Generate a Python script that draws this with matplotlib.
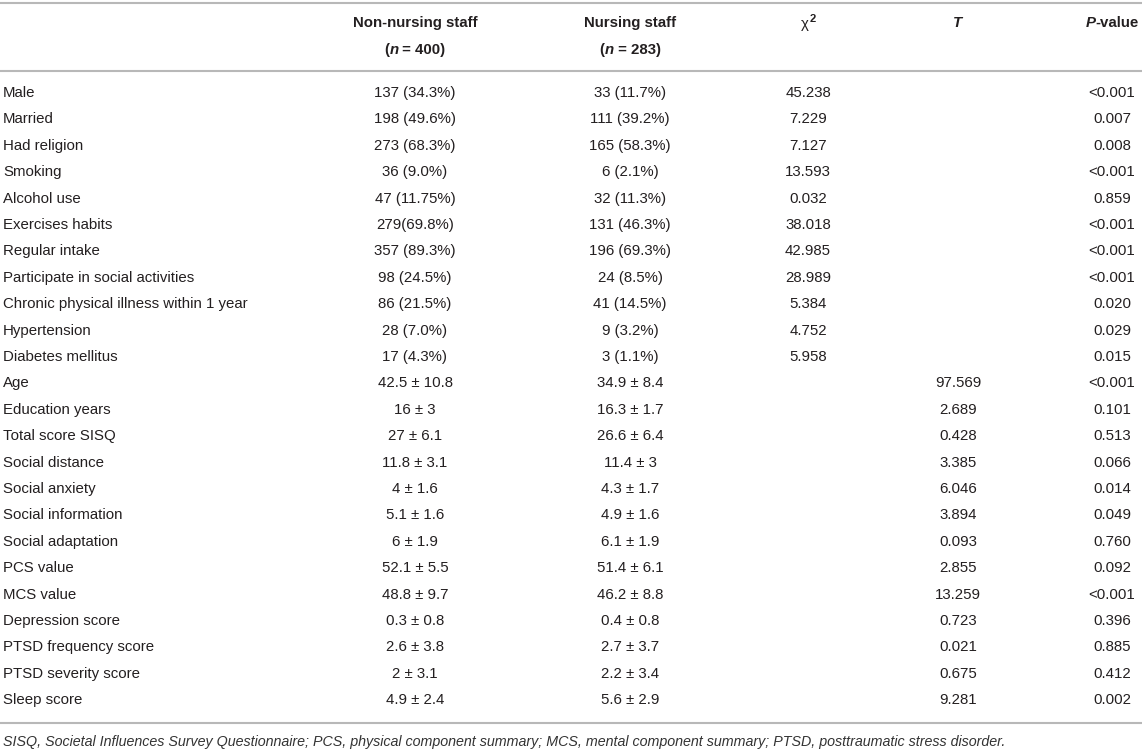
import matplotlib
matplotlib.use("Agg")
import matplotlib.pyplot as plt

plt.rcParams['font.family'] = ['Liberation Sans', 'DejaVu Sans']

# ---- data ----
labels = [
    "Male", "Married", "Had religion", "Smoking", "Alcohol use", "Exercises habits",
    "Regular intake", "Participate in social activities",
    "Chronic physical illness within 1 year", "Hypertension", "Diabetes mellitus",
    "Age", "Education years", "Total score SISQ", "Social distance", "Social anxiety",
    "Social information", "Social adaptation", "PCS value", "MCS value",
    "Depression score", "PTSD frequency score", "PTSD severity score", "Sleep score",
]
non_nursing = [
    "137 (34.3%)", "198 (49.6%)", "273 (68.3%)", "36 (9.0%)", "47 (11.75%)",
    "279(69.8%)", "357 (89.3%)", "98 (24.5%)", "86 (21.5%)", "28 (7.0%)", "17 (4.3%)",
    "42.5 ± 10.8", "16 ± 3", "27 ± 6.1", "11.8 ± 3.1", "4 ± 1.6", "5.1 ± 1.6",
    "6 ± 1.9", "52.1 ± 5.5", "48.8 ± 9.7", "0.3 ± 0.8", "2.6 ± 3.8", "2 ± 3.1",
    "4.9 ± 2.4",
]
nursing = [
    "33 (11.7%)", "111 (39.2%)", "165 (58.3%)", "6 (2.1%)", "32 (11.3%)",
    "131 (46.3%)", "196 (69.3%)", "24 (8.5%)", "41 (14.5%)", "9 (3.2%)", "3 (1.1%)",
    "34.9 ± 8.4", "16.3 ± 1.7", "26.6 ± 6.4", "11.4 ± 3", "4.3 ± 1.7", "4.9 ± 1.6",
    "6.1 ± 1.9", "51.4 ± 6.1", "46.2 ± 8.8", "0.4 ± 0.8", "2.7 ± 3.7", "2.2 ± 3.4",
    "5.6 ± 2.9",
]
chi2 = ["45.238", "7.229", "7.127", "13.593", "0.032", "38.018", "42.985", "28.989",
        "5.384", "4.752", "5.958"] + [""] * 13
t_vals = [""] * 11 + ["97.569", "2.689", "0.428", "3.385", "6.046", "3.894", "0.093",
                      "2.855", "13.259", "0.723", "0.021", "0.675", "9.281"]
p_vals = ["<0.001", "0.007", "0.008", "<0.001", "0.859", "<0.001", "<0.001", "<0.001",
          "0.020", "0.029", "0.015", "<0.001", "0.101", "0.513", "0.066", "0.014",
          "0.049", "0.760", "0.092", "<0.001", "0.396", "0.885", "0.412", "0.002"]
footnote = ("SISQ, Societal Influences Survey Questionnaire; PCS, physical component "
            "summary; MCS, mental component summary; PTSD, posttraumatic stress disorder.")

# ---- layout ----
W, H = 1142, 749
fig = plt.figure(figsize=(W / 100, H / 100), dpi=100)
ax = fig.add_axes([0, 0, 1, 1])
ax.set_xlim(0, W)
ax.set_ylim(H, 0)
ax.axis("off")
renderer = fig.canvas.get_renderer()

TXT = "#231f20"
LINE = "#b8b8b8"
FS = 10.8

col_x = [415, 630, 808, 958, 1112]
label_x = 3
row0, dy = 93, 26.4
hdr1, hdr2 = 23, 50

for yl in (3, 71, 723):
    ax.plot([0, W], [yl, yl], color=LINE, lw=1.5, solid_capstyle="butt")


def width_of(s, **kw):
    t = ax.text(0, 0, s, fontsize=kw.get("fontsize", FS), fontweight=kw.get("weight", "normal"),
                fontstyle=kw.get("style", "normal"))
    w = t.get_window_extent(renderer).width
    t.remove()
    return w


def runs(xc, y, parts):
    """parts: list of (text, weight, style)"""
    widths = [width_of(p[0], weight=p[1], style=p[2]) for p in parts]
    x = xc - sum(widths) / 2
    for (s, wgt, sty), w in zip(parts, widths):
        ax.text(x, y, s, fontsize=FS, fontweight=wgt, fontstyle=sty, color=TXT,
                ha="left", va="center")
        x += w


# header
runs(col_x[0], hdr1, [("Non-nursing staff", "bold", "normal")])
runs(col_x[0], hdr2, [("(", "bold", "normal"), ("n", "bold", "italic"),
                      (" = 400)", "bold", "normal")])
runs(col_x[1], hdr1, [("Nursing staff", "bold", "normal")])
runs(col_x[1], hdr2, [("(", "bold", "normal"), ("n", "bold", "italic"),
                      (" = 283)", "bold", "normal")])
# chi-square with superscript
wchi = width_of("χ")
wsup = width_of("2", weight="bold", fontsize=FS * 0.75)
xs = col_x[2] - (wchi + wsup) / 2
ax.text(xs, hdr1 + 1, "χ", fontsize=FS, color=TXT, ha="left", va="center")
ax.text(xs + wchi + 1, hdr1 - 4, "2", fontsize=FS * 0.75, fontweight="bold", color=TXT,
        ha="left", va="center")
runs(col_x[3], hdr1, [("T", "bold", "italic")])
runs(col_x[4], hdr1, [("P", "bold", "italic"), ("-value", "bold", "normal")])

# body
for i, lab in enumerate(labels):
    y = row0 + i * dy
    ax.text(label_x, y, lab, fontsize=FS, color=TXT, ha="left", va="center")
    for xc, col in zip(col_x, [non_nursing, nursing, chi2, t_vals, p_vals]):
        if col[i]:
            ax.text(xc, y, col[i], fontsize=FS, color=TXT, ha="center", va="center")

ax.text(label_x, 742, footnote, fontsize=10.3, fontstyle="italic", color="#333333",
        ha="left", va="center")

fig.savefig("out.png", dpi=100)
